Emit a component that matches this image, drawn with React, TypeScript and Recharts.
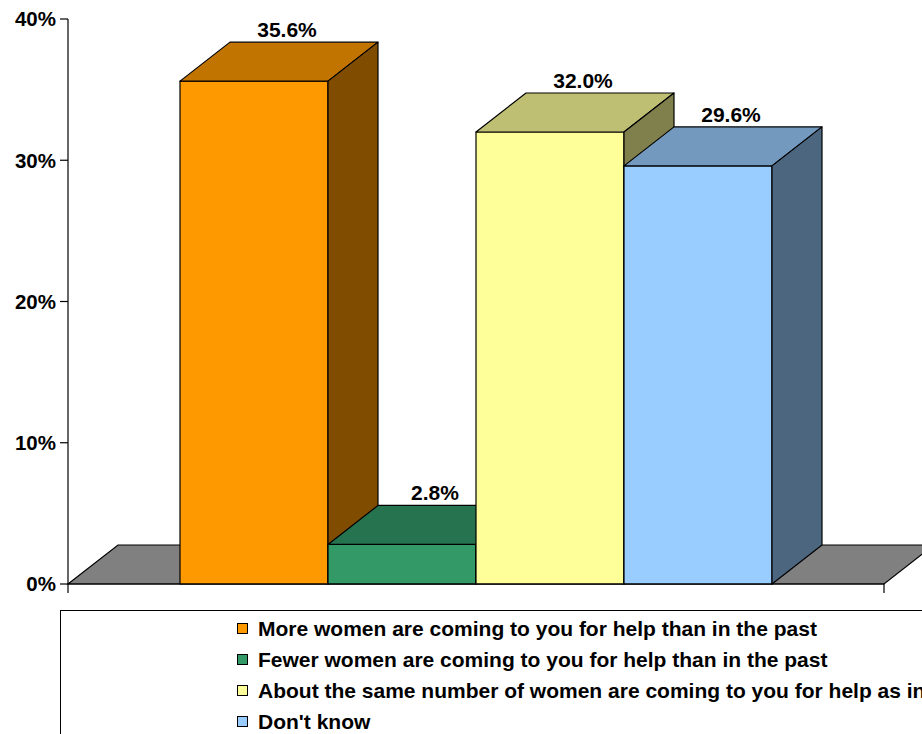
import { Bar, BarChart, LabelList, ReferenceArea, XAxis, YAxis } from 'recharts';

const categories = ['Responses'];
const seriesNames = [
  'More women are coming to you for help than in the past',
  'Fewer women are coming to you for help than in the past',
  'About the same number of women are coming to you for help as in the past',
  "Don't know",
];
const seriesValues = [35.6, 2.8, 32.0, 29.6];
const yTicks = [0, 10, 20, 30, 40];

const frontColors = ['#FF9900', '#339966', '#FFFF99', '#99CCFF'];
const topColors = ['#C27400', '#267350', '#BFBF73', '#7399BF'];
const sideColors = ['#7F4C00', '#1A4D33', '#80804D', '#4D6680'];

// 3D depth of the boxes, in px
const DX = 50;
const DY = 39;

const font = 'Arial, "Liberation Sans", sans-serif';

const data = categories.map((name) => {
  const row: Record<string, string | number> = { name };
  seriesValues.forEach((v, i) => {
    row[`s${i}`] = v;
  });
  return row;
});

function box3d(i: number) {
  return (props: any) => {
    const { x, y, width: w, height: h } = props;
    if (w == null || h == null) return <g />;
    return (
      <g stroke="#000" strokeWidth={1.2} strokeLinejoin="round">
        <rect x={x} y={y} width={w} height={h} fill={frontColors[i]} />
        <polygon
          points={`${x},${y} ${x + DX},${y - DY} ${x + w + DX},${y - DY} ${x + w},${y}`}
          fill={topColors[i]}
        />
        <polygon
          points={`${x + w},${y} ${x + w + DX},${y - DY} ${x + w + DX},${y + h - DY} ${x + w},${y + h}`}
          fill={sideColors[i]}
        />
      </g>
    );
  };
}

function Floor(props: any) {
  const { x, y, width, height } = props;
  const base = y + height;
  const right = x + width;
  return (
    <g>
      <polygon
        points={`${x},${base} ${x + DX},${base - DY} ${right + DX},${base - DY} ${right},${base}`}
        fill="#808080"
        stroke="#000"
        strokeWidth={1.2}
      />
      <line x1={x} y1={base} x2={x} y2={base + 9} stroke="#000" strokeWidth={1.2} />
      <line x1={right} y1={base} x2={right} y2={base + 9} stroke="#000" strokeWidth={1.2} />
    </g>
  );
}

function ValueLabel(props: any) {
  const { x, y, width, value } = props;
  return (
    <text
      x={x + width / 2 + 33}
      y={y - DY - 5}
      textAnchor="middle"
      fontFamily={font}
      fontWeight="bold"
      fontSize={21}
      fill="#000"
    >
      {`${Number(value).toFixed(1)}%`}
    </text>
  );
}

function LegendBox() {
  return (
    <div
      style={{
        position: 'absolute',
        left: 60,
        top: 610,
        width: 900,
        height: 200,
        border: '1px solid #000',
        boxSizing: 'border-box',
        paddingTop: 2,
        paddingLeft: 176,
        fontFamily: font,
        fontWeight: 'bold',
        fontSize: 21,
        lineHeight: '31px',
        color: '#000',
      }}
    >
      {seriesNames.map((name, i) => (
        <div key={name} style={{ display: 'flex', alignItems: 'center', whiteSpace: 'nowrap' }}>
          <span
            style={{
              display: 'inline-block',
              width: 11,
              height: 11,
              boxSizing: 'border-box',
              border: '1px solid #000',
              background: frontColors[i],
              marginRight: 10,
              flex: 'none',
            }}
          />
          <span>{name}</span>
        </div>
      ))}
    </div>
  );
}

export default function App() {
  return (
    <div
      style={{
        position: 'absolute',
        left: 0,
        top: 0,
        width: 922,
        height: 734,
        overflow: 'hidden',
        background: '#fff',
      }}
    >
      <BarChart
        width={922}
        height={734}
        data={data}
        margin={{ top: 19, right: 38, bottom: 120, left: 0 }}
        barCategoryGap={112}
        barGap={0}
      >
        <ReferenceArea y1={0} y2={40} shape={<Floor />} ifOverflow="visible" />
        <XAxis dataKey="name" height={30} tick={false} tickLine={false} axisLine={{ stroke: '#000', strokeWidth: 1.2 }} />
        <YAxis
          width={68}
          domain={[0, 40]}
          ticks={yTicks}
          tickFormatter={(v) => `${v}%`}
          tickSize={8}
          tickMargin={4}
          tickLine={{ stroke: '#000', strokeWidth: 1.2 }}
          axisLine={{ stroke: '#000', strokeWidth: 1.2 }}
          tick={{ fill: '#000', fontSize: 20.5, fontWeight: 'bold', fontFamily: font }}
          interval={0}
        />
        {seriesNames.map((name, i) => (
          <Bar
            key={name}
            name={name}
            dataKey={`s${i}`}
            fill={frontColors[i]}
            shape={box3d(i)}
            isAnimationActive={false}
          >
            <LabelList dataKey={`s${i}`} content={<ValueLabel />} />
          </Bar>
        ))}
      </BarChart>
      <LegendBox />
    </div>
  );
}
